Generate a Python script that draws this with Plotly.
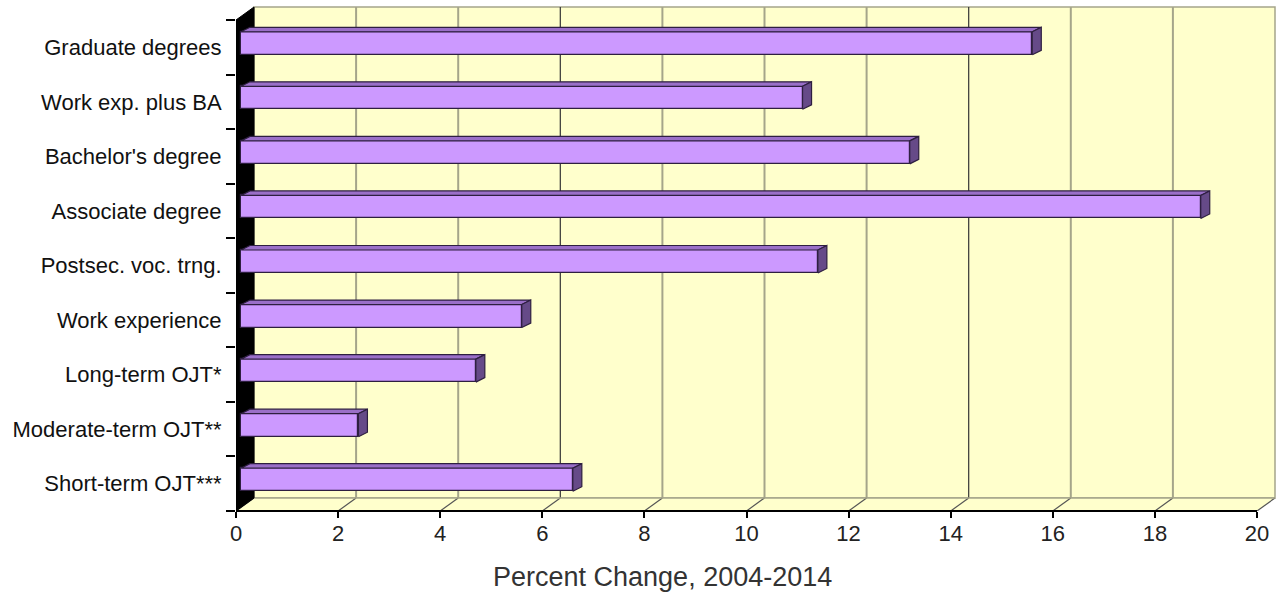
import plotly.graph_objects as go

# ---- data ----
categories = ["Graduate degrees", "Work exp. plus BA", "Bachelor's degree",
              "Associate degree", "Postsec. voc. trng.", "Work experience",
              "Long-term OJT*", "Moderate-term OJT**", "Short-term OJT***"]
values = [15.5, 11.0, 13.1, 18.8, 11.3, 5.5, 4.6, 2.3, 6.5]
x_ticks = list(range(0, 21, 2))
x_title = "Percent Change, 2004-2014"

# ---- geometry (pixel -> data unit helpers) ----
W, H = 1278, 594
ML, MR, MT, MB = 236, 1, 6, 83
XMAX = 20
N = len(categories)
PX = 1021 / XMAX            # px per x unit (front plane)
PY = 491 / N                # px per category band (front plane)
DXW = 18 / PX               # wall depth in x units
DYW = 13 / PY               # wall depth in y units
x_range = [0, (W - ML - MR) / PX]
y_range = [-0.5, -0.5 + (H - MT - MB) / PY]

BX_OFF = 5 / PX             # bar front-face offset (depth)
BY_OFF = 4 / PY
BH = 23 / PY                # bar thickness
BDX = 9 / PX                # bar 3D depth
BDY = 4.5 / PY

pos = [N - 1 - i for i in range(N)]
ybar = [p + BY_OFF for p in pos]

YEL = "#FFFFCC"
GRID = "#A5A58A"
yb, yt = -0.5, N - 0.5

shapes = []

def sh_path(pts, fill, line="rgba(0,0,0,0)", lw=0):
    d = "M " + " L ".join(f"{x},{y}" for x, y in pts) + " Z"
    shapes.append(dict(type="path", xref="x", yref="y", path=d, fillcolor=fill,
                       line=dict(color=line, width=lw), layer="below"))

def sh_line(x0, y0, x1, y1, color, lw=1.5):
    shapes.append(dict(type="line", xref="x", yref="y", x0=x0, y0=y0, x1=x1, y1=y1,
                       line=dict(color=color, width=lw), layer="below"))

# back wall
sh_path([(DXW, yb + DYW), (XMAX + DXW, yb + DYW), (XMAX + DXW, yt + DYW), (DXW, yt + DYW)],
        YEL, GRID, 1.5)
# floor
sh_path([(0, yb), (XMAX, yb), (XMAX + DXW, yb + DYW), (DXW, yb + DYW)], YEL)
# back-wall gridlines
for k in x_ticks[1:-1]:
    col, lw = ("#333333", 1.2) if k in (6, 14) else (GRID, 2)
    sh_line(k + DXW, yb + DYW, k + DXW, yt + DYW, col, lw)
# floor diagonals
for k in x_ticks:
    sh_line(k, yb, k + DXW, yb + DYW, "#555555", 1.2)
sh_line(DXW, yb + DYW, XMAX + DXW, yb + DYW, GRID, 1.5)
# left black wall
sh_path([(0, yb), (DXW, yb + DYW), (DXW, yt + DYW), (0, yt)], "#000000", "#000000", 1)
# front x axis line
shapes.append(dict(type="line", xref="x", yref="paper", x0=0, x1=XMAX, y0=0, y1=0,
                   line=dict(color="#000000", width=2), layer="above"))

fig = go.Figure()

# bars (front faces)
fig.add_trace(go.Bar(orientation="h", y=ybar, x=values, base=[BX_OFF] * N,
                     width=BH, marker=dict(color="#CC99FF",
                                           line=dict(color="#2E1F40", width=1.2)),
                     hoverinfo="skip", showlegend=False))

def poly(xs, ys, fill, line, lw):
    fig.add_trace(go.Scatter(x=xs, y=ys, mode="lines", fill="toself",
                             fillcolor=fill, line=dict(color=line, width=lw),
                             hoverinfo="skip", showlegend=False))

# bar top & side faces
tx, ty, sx, sy = [], [], [], []
for v, yc in zip(values, ybar):
    x0, x1 = BX_OFF, BX_OFF + v
    top = yc + BH / 2
    bot = yc - BH / 2
    tx += [x0, x0 + BDX, x1 + BDX, x1, x0, None]
    ty += [top, top + BDY, top + BDY, top, top, None]
    sx += [x1, x1 + BDX, x1 + BDX, x1, x1, None]
    sy += [bot, bot + BDY, top + BDY, top, bot, None]
poly(tx, ty, "#9A6FC8", "#2E1F40", 1.2)
poly(sx, sy, "#664A88", "#2E1F40", 1.2)

fig.update_layout(
    width=W, height=H,
    margin=dict(l=ML, r=MR, t=MT, b=MB),
    paper_bgcolor="white", plot_bgcolor="white",
    font=dict(family="Liberation Sans, Arial, sans-serif", color="#222222"),
    bargap=0,
    shapes=shapes,
    annotations=[dict(text=x_title, xref="paper", yref="paper", x=(662 - ML) / (W - ML - MR),
                      y=-(577 - (H - MB)) / (H - MT - MB), xanchor="center", yanchor="middle",
                      showarrow=False, font=dict(size=27, color="#333333"))],
)
fig.update_xaxes(range=x_range, tickvals=x_ticks, ticktext=[str(t) for t in x_ticks],
                 ticks="outside", ticklen=6, tickwidth=1.5, tickcolor="#000000",
                 ticklabelstandoff=-3,
                 showgrid=False, zeroline=False, showline=False,
                 tickfont=dict(size=22, color="#222222"))
fig.update_yaxes(range=y_range, tickvals=pos, ticktext=categories,
                 ticks="outside", ticklen=9, tickcolor="rgba(0,0,0,0)",
                 minor=dict(tickvals=[p - 0.5 for p in range(N + 1)], ticks="outside",
                            ticklen=9, tickwidth=1.5, tickcolor="#000000", showgrid=False),
                 showgrid=False, zeroline=False, showline=False,
                 tickfont=dict(size=22, color="#111111"))

fig.write_html("out.html")
